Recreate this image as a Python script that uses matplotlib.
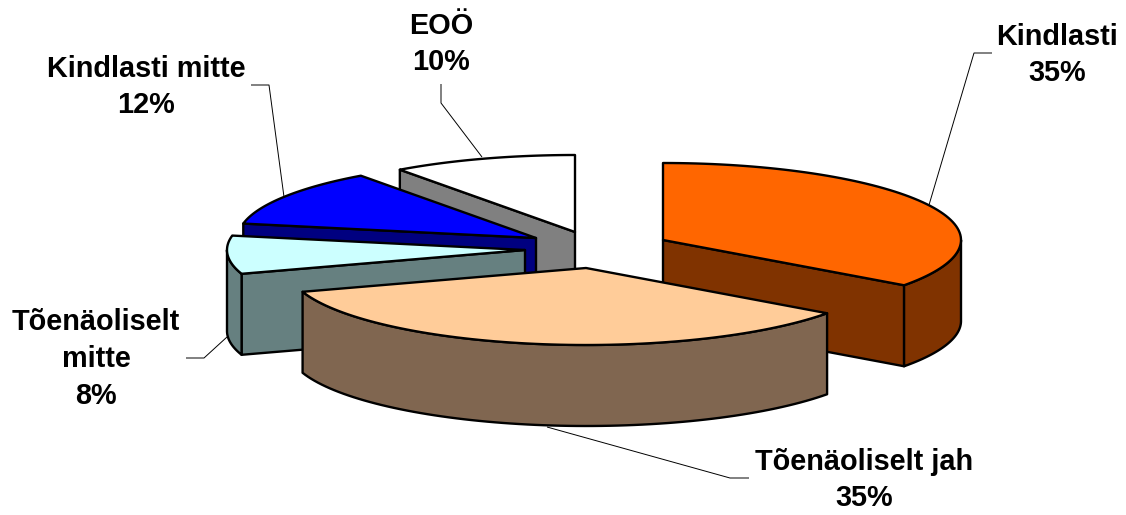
import numpy as np
import matplotlib.pyplot as plt
from matplotlib.patches import Polygon

labels = ["Kindlasti", "Tõenäoliselt jah", "Tõenäoliselt\nmitte", "Kindlasti mitte", "EOÖ"]
values = [35, 35, 8, 12, 10]
top_colors = ["#FF6600", "#FFCC99", "#CCFFFF", "#0000FF", "#FFFFFF"]
side_colors = ["#803300", "#806650", "#668080", "#000080", "#808080"]

# apex of each exploded slice, pixels
apex_x = [663, 586, 525, 536, 575]
apex_y = [240, 268, 250, 238, 232]
RX, RY, DEPTH = 298, 77, 81

plt.rcParams["font.family"] = ["Liberation Sans", "DejaVu Sans"]
fig = plt.figure(figsize=(11.26, 5.15), dpi=100)
ax = fig.add_axes([0, 0, 1, 1])
ax.set_xlim(0, 1126)
ax.set_ylim(515, 0)
ax.axis("off")


def rim(cx, cy, a0, a1, drop=0):
    a = np.radians(np.linspace(a0, a1, 80))
    return np.column_stack([cx + RX * np.sin(a), cy - RY * np.cos(a) + drop])


def poly(pts, color, z):
    ax.add_patch(Polygon(pts, closed=True, facecolor=color, edgecolor="black",
                         linewidth=1.7, joinstyle="round", zorder=z))


edges = np.cumsum([0] + values) * 3.6
order = [4, 3, 2, 0, 1]  # back to front
for z, i in enumerate(order):
    a0, a1 = edges[i], edges[i + 1]
    cx, cy = apex_x[i], apex_y[i]
    z0 = 10 * (z + 1)
    # flat wall along a radial edge, only the ones that face the viewer
    if 180 < a0 < 360:
        p = rim(cx, cy, a0, a0)[0]
        poly([(cx, cy), p, (p[0], p[1] + DEPTH), (cx, cy + DEPTH)], side_colors[i], z0)
    if 0 < a1 < 180:
        p = rim(cx, cy, a1, a1)[0]
        poly([(cx, cy), p, (p[0], p[1] + DEPTH), (cx, cy + DEPTH)], side_colors[i], z0)
    # curved outer wall, front half only
    lo, hi = max(a0, 90), min(a1, 270)
    if lo < hi:
        poly(np.vstack([rim(cx, cy, lo, hi), rim(cx, cy, hi, lo, DEPTH)]), side_colors[i], z0 + 1)
    # top face
    poly(np.vstack([[(cx, cy)], rim(cx, cy, a0, a1)]), top_colors[i], z0 + 2)

# leader lines
leaders = [
    ([992, 974, 929], [53, 53, 205]),
    ([749, 730, 547], [478, 478, 427]),
    ([186, 204, 227], [358, 358, 337]),
    ([251, 269, 284], [85, 85, 197]),
    ([441, 441, 482], [84, 103, 157]),
]
for lx, ly in leaders:
    ax.plot(lx, ly, color="black", lw=0.7, zorder=100, solid_capstyle="butt")

text_x = [1057, 864, 96, 146, 441]
text_y = [55, 480, 359, 87, 44]
for i in range(len(labels)):
    ax.text(text_x[i], text_y[i], f"{labels[i]}\n{values[i]}%", ha="center", va="center",
            fontsize=20.8, fontweight="bold", linespacing=1.4, zorder=101)

fig.savefig("out.png", dpi=100, facecolor="white")
